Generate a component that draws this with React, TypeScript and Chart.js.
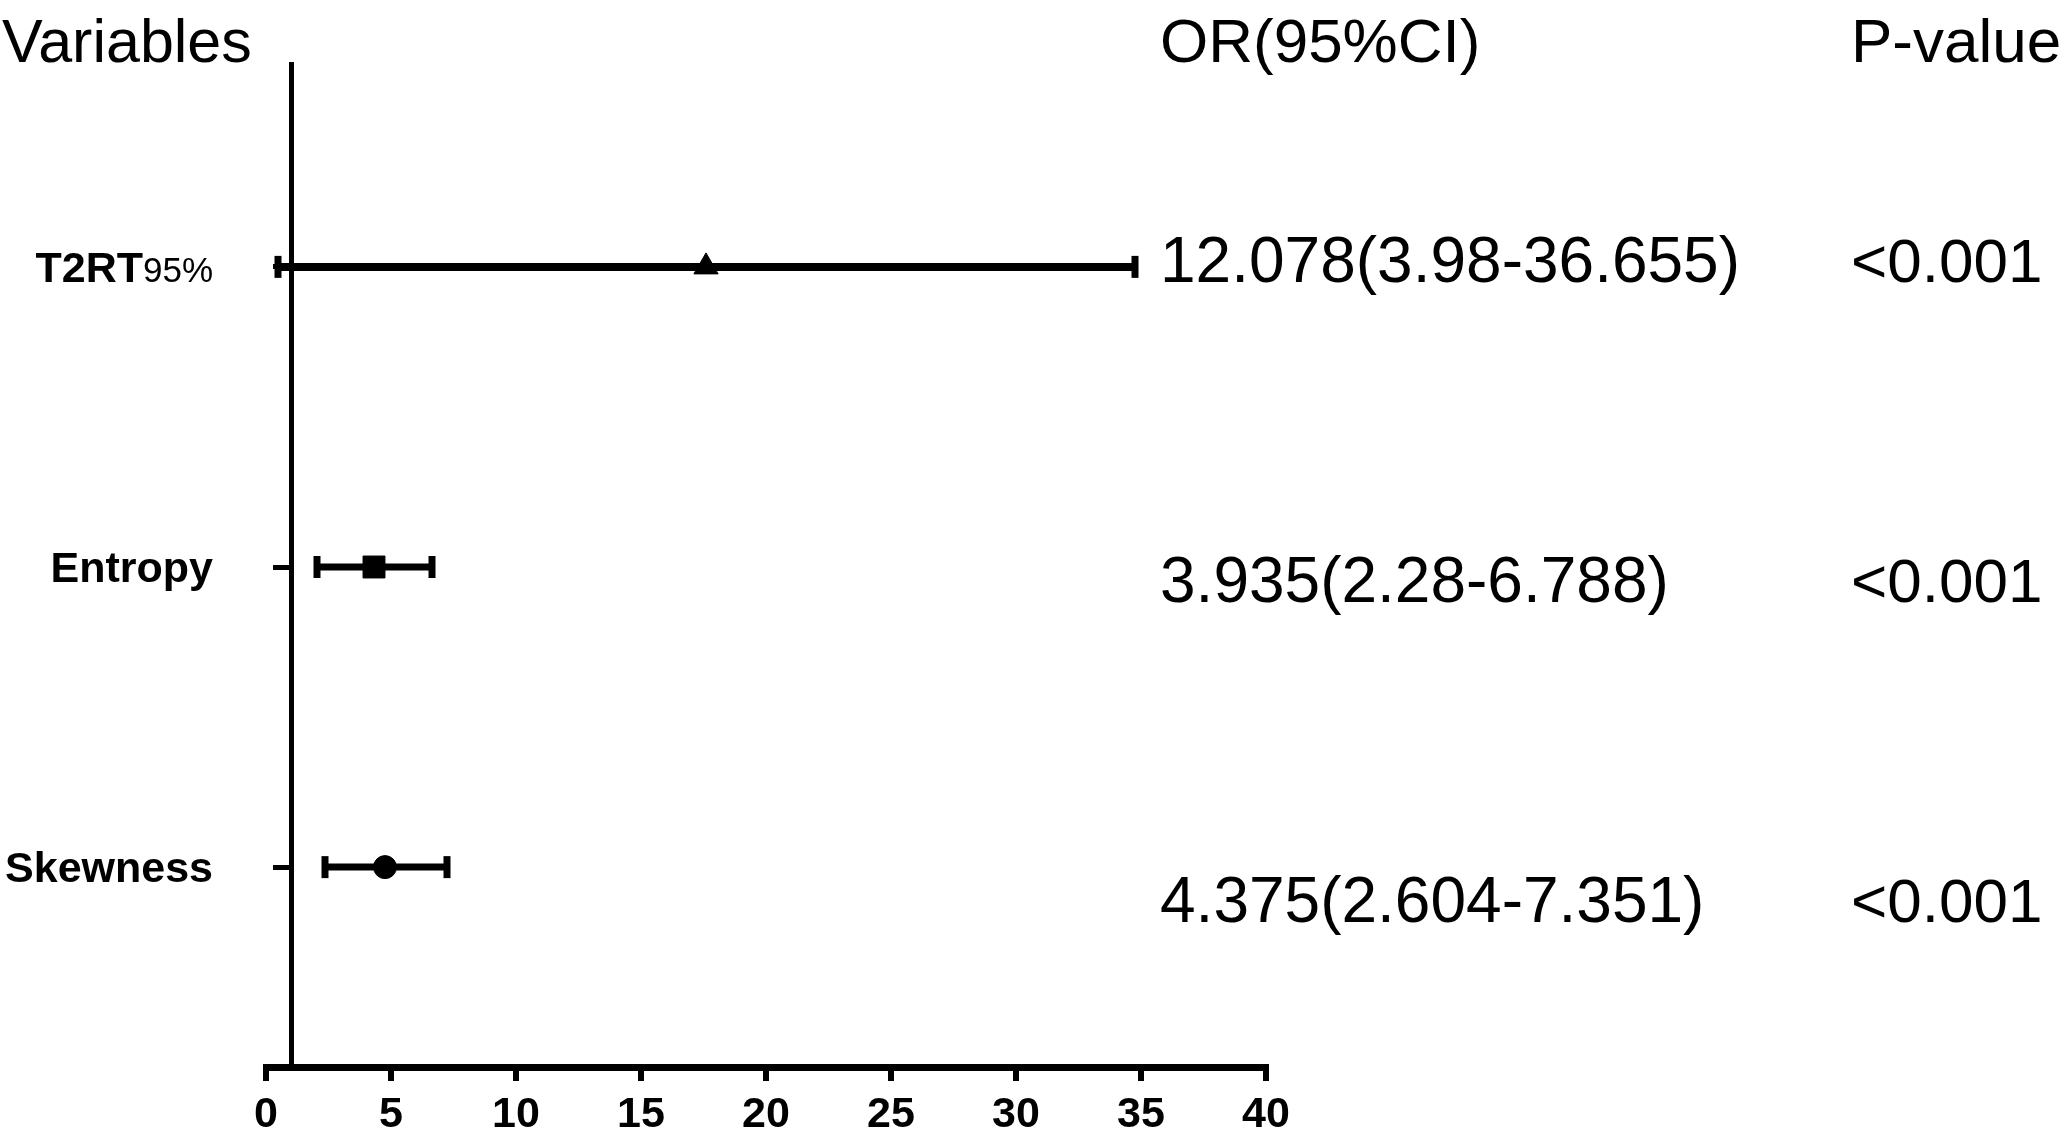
import React, { useEffect, useRef } from 'react';
import { Chart, registerables } from 'chart.js';

Chart.register(...registerables);

const FONT = '"Liberation Sans", Arial, Helvetica, sans-serif';

// ---- data ----
const variables = ['T2RT', 'Entropy', 'Skewness'];
const variableSuffix = ['95%', '', ''];
const rowPositions = [3, 2, 1];
const oddsRatios = [17.6, 4.32, 4.76];
const ciLower = [0.48, 2.04, 2.36];
const ciUpper = [34.76, 6.64, 7.24];
const orLabels = ['12.078(3.98-36.655)', '3.935(2.28-6.788)', '4.375(2.604-7.351)'];
const pValues = ['<0.001', '<0.001', '<0.001'];
const markerStyles = ['triangle', 'rect', 'circle'];
const xTickValues = [0, 5, 10, 15, 20, 25, 30, 35, 40];
const headers = ['Variables', 'OR(95%CI)', 'P-value'];

const markerRadius = [14, 15.5, 11.5];
const barWidths = [8, 7, 7];

const textPlugin = {
  id: 'forestText',
  afterDraw(chart: any) {
    const ctx = chart.ctx;
    const y = chart.scales.y;
    ctx.save();
    ctx.fillStyle = '#000';
    ctx.textBaseline = 'alphabetic';
    ctx.textAlign = 'left';
    ctx.font = `61px ${FONT}`;
    ctx.fillText(headers[0], 2, 62);
    ctx.font = `62px ${FONT}`;
    ctx.fillText(headers[1], 1160, 62);
    ctx.fillText(headers[2], 1851, 62);

    variables.forEach((v, i) => {
      const py = y.getPixelForValue(rowPositions[i]) + 15;
      const suffix = variableSuffix[i];
      ctx.textAlign = 'right';
      let sw = 0;
      if (suffix) {
        ctx.font = `35px ${FONT}`;
        sw = ctx.measureText(suffix).width;
        ctx.fillText(suffix, 213, py);
      }
      ctx.font = `bold 43px ${FONT}`;
      ctx.fillText(v, 213 - sw, py);
    });

    ctx.textAlign = 'left';
    ctx.font = `64px ${FONT}`;
    orLabels.forEach((t, i) => ctx.fillText(t, 1160, 282 + 320 * i));
    ctx.font = `62px ${FONT}`;
    pValues.forEach((t, i) => ctx.fillText(t, 1851, 282 + 320 * i));
    ctx.restore();
  },
};

export default function App() {
  const ref = useRef<HTMLCanvasElement>(null);

  useEffect(() => {
    if (!ref.current) return;
    const barDatasets = rowPositions.map((rp, i) => ({
      type: 'line' as const,
      data: [
        { x: ciLower[i], y: rp },
        { x: ciUpper[i], y: rp },
      ],
      borderColor: '#000',
      borderWidth: barWidths[i],
      borderCapStyle: 'butt',
      pointStyle: 'line',
      pointRotation: 90,
      pointRadius: 11,
      pointBorderWidth: 7,
      pointBorderColor: '#000',
      pointBackgroundColor: '#000',
      fill: false,
      order: 2,
    }));
    const markerDataset = {
      type: 'scatter' as const,
      data: rowPositions.map((rp, i) => ({ x: oddsRatios[i], y: rp })),
      pointStyle: markerStyles,
      pointRadius: markerRadius,
      backgroundColor: '#000',
      borderColor: '#000',
      borderWidth: 1,
      order: 1,
    };

    const chart = new Chart(ref.current, {
      type: 'scatter',
      data: { datasets: [markerDataset as any, ...(barDatasets as any[])] },
      options: {
        animation: false,
        responsive: false,
        devicePixelRatio: 1,
        events: [],
        layout: { padding: { left: 266, right: 800, top: 64, bottom: 0 } },
        plugins: { legend: { display: false }, tooltip: { enabled: false } },
        scales: {
          x: {
            type: 'linear',
            min: 0,
            max: 40,
            afterBuildTicks: (s: any) => {
              s.ticks = xTickValues.map((v) => ({ value: v }));
            },
            afterFit: (s: any) => {
              s.height = 68;
            },
            ticks: {
              color: '#000',
              font: { family: FONT, size: 43, weight: 'bold' },
              padding: 8,
              maxRotation: 0,
              autoSkip: false,
            },
            grid: {
              display: true,
              drawOnChartArea: false,
              drawTicks: true,
              tickLength: 14,
              lineWidth: 6,
              color: '#000',
            },
            border: { display: true, color: '#000', width: 7 },
          },
          y: {
            type: 'linear',
            min: 0.334,
            max: 3.676,
            position: { x: 1 } as any,
            afterBuildTicks: (s: any) => {
              s.ticks = rowPositions.map((v) => ({ value: v }));
            },
            ticks: { display: false },
            grid: {
              display: true,
              drawOnChartArea: false,
              drawTicks: true,
              tickLength: 16,
              lineWidth: 5,
              color: '#000',
            },
            border: { display: true, color: '#000', width: 5 },
          },
        },
      } as any,
      plugins: [textPlugin],
    });
    return () => chart.destroy();
  }, []);

  return (
    <div style={{ position: 'fixed', left: 0, top: 0, width: 2066, height: 1135, background: '#fff' }}>
      <canvas ref={ref} width={2066} height={1135} style={{ width: 2066, height: 1135 }} />
    </div>
  );
}
